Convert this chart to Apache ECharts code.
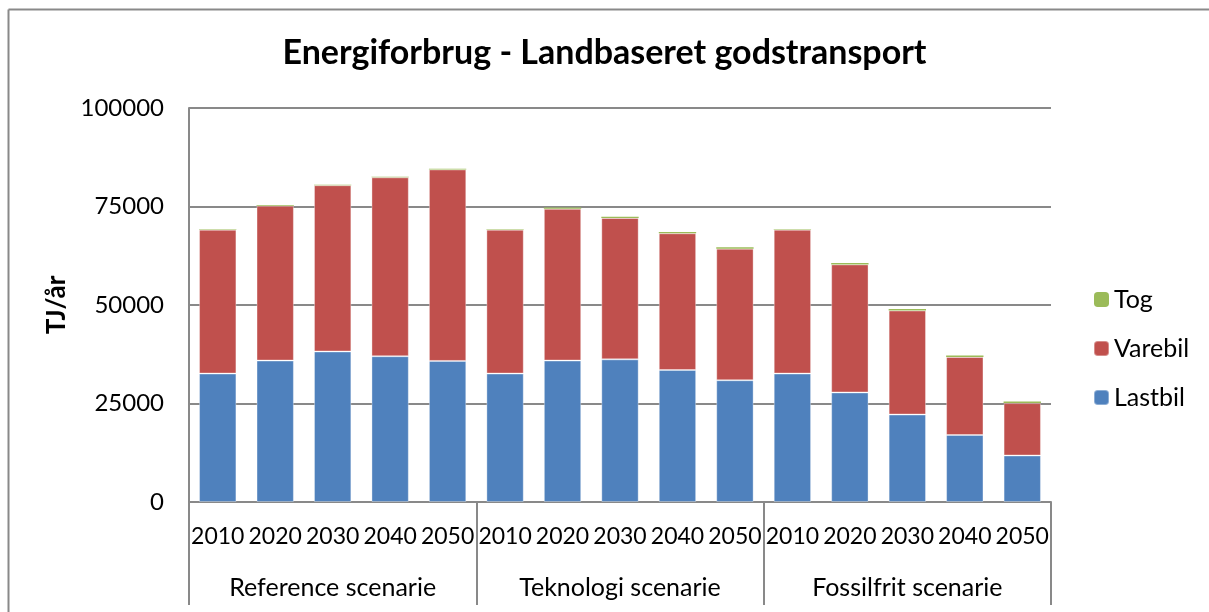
<!DOCTYPE html>
<html>
<head>
<meta charset="utf-8">
<script src="https://cdn.jsdelivr.net/npm/echarts@6/dist/echarts.min.js"></script>
<style>
  html, body { margin: 0; padding: 0; background: #fff; }
  #chart { width: 1209px; height: 612px; }
</style>
</head>
<body>
<div id="chart"></div>
<script>
// kategorier
const years = ['2010', '2020', '2030', '2040', '2050',
               '2010', '2020', '2030', '2040', '2050',
               '2010', '2020', '2030', '2040', '2050']
const scenarios = ['Reference scenarie', 'Teknologi scenarie', 'Fossilfrit scenarie']
const yTicks = [0, 25000, 50000, 75000, 100000]

// TJ/år
const lastbil = [32600, 35900, 38200, 37000, 35800,
                 32600, 35900, 36200, 33500, 30900,
                 32600, 27800, 22200, 17000, 11800]
const varebil = [36500, 39300, 42200, 45400, 48600,
                 36500, 38500, 35900, 34700, 33400,
                 36500, 32500, 26400, 19800, 13300]
const tog = [150, 150, 150, 150, 150,
             150, 350, 300, 350, 350,
             150, 350, 400, 400, 400]

const font = 'Lato'
const chart = echarts.init(document.getElementById('chart'))

const barStyle = (color) => ({
  color: color,
  borderColor: 'rgba(255,255,255,0.35)',
  borderWidth: 1
})

chart.setOption({
  animation: false,
  backgroundColor: '#fff',
  textStyle: { fontFamily: font },
  title: {
    text: 'Energiforbrug - Landbaseret godstransport',
    left: 'center',
    top: 31,
    textStyle: { fontFamily: font, fontSize: 34, fontWeight: 'bold', color: '#000' }
  },
  legend: {
    orient: 'vertical',
    left: 1093,
    top: 287,
    padding: 0,
    itemWidth: 15,
    itemHeight: 15,
    itemGap: 24,
    data: ['Tog', 'Varebil', 'Lastbil'],
    textStyle: { fontFamily: font, fontSize: 25, color: '#000', lineHeight: 25 }
  },
  grid: { left: 189, right: 158, top: 108, bottom: 110, containLabel: false },
  xAxis: [
    {
      type: 'category',
      data: years,
      axisLine: { show: true, lineStyle: { color: '#898989', width: 2 } },
      axisTick: { show: false },
      axisLabel: { interval: 0, margin: 23, fontFamily: font, fontSize: 23, color: '#000' }
    },
    {
      type: 'category',
      data: scenarios,
      position: 'bottom',
      axisLine: { show: false },
      axisTick: { show: true, length: 103, lineStyle: { color: '#898989', width: 2 } },
      axisLabel: { interval: 0, margin: 73, fontFamily: font, fontSize: 25, color: '#000' },
      splitLine: { show: false }
    }
  ],
  yAxis: {
    type: 'value',
    min: yTicks[0],
    max: yTicks[yTicks.length - 1],
    interval: 25000,
    name: 'TJ/år',
    nameLocation: 'middle',
    nameGap: 116,
    nameRotate: 90,
    nameTextStyle: { fontFamily: font, fontSize: 26, fontWeight: 'bold', color: '#000' },
    axisLine: { show: true, lineStyle: { color: '#898989', width: 2 } },
    axisTick: { show: false },
    axisLabel: { margin: 25, fontFamily: font, fontSize: 24, color: '#000', formatter: (v) => String(v) },
    splitLine: { show: true, lineStyle: { color: '#898989', width: 2 } }
  },
  series: [
    { name: 'Lastbil', type: 'bar', stack: 'total', data: lastbil, barCategoryGap: '35%', itemStyle: barStyle('#4F81BD') },
    { name: 'Varebil', type: 'bar', stack: 'total', data: varebil, itemStyle: barStyle('#C0504D') },
    { name: 'Tog', type: 'bar', stack: 'total', data: tog, itemStyle: { color: '#9BBB59' } }
  ],
  graphic: [
    { type: 'line', shape: { x1: 8.5, y1: 9.5, x2: 1209, y2: 9.5 }, style: { stroke: '#898989', lineWidth: 2 } },
    { type: 'line', shape: { x1: 8.5, y1: 9.5, x2: 8.5, y2: 612 }, style: { stroke: '#898989', lineWidth: 2 } }
  ]
})
</script>
</body>
</html>
